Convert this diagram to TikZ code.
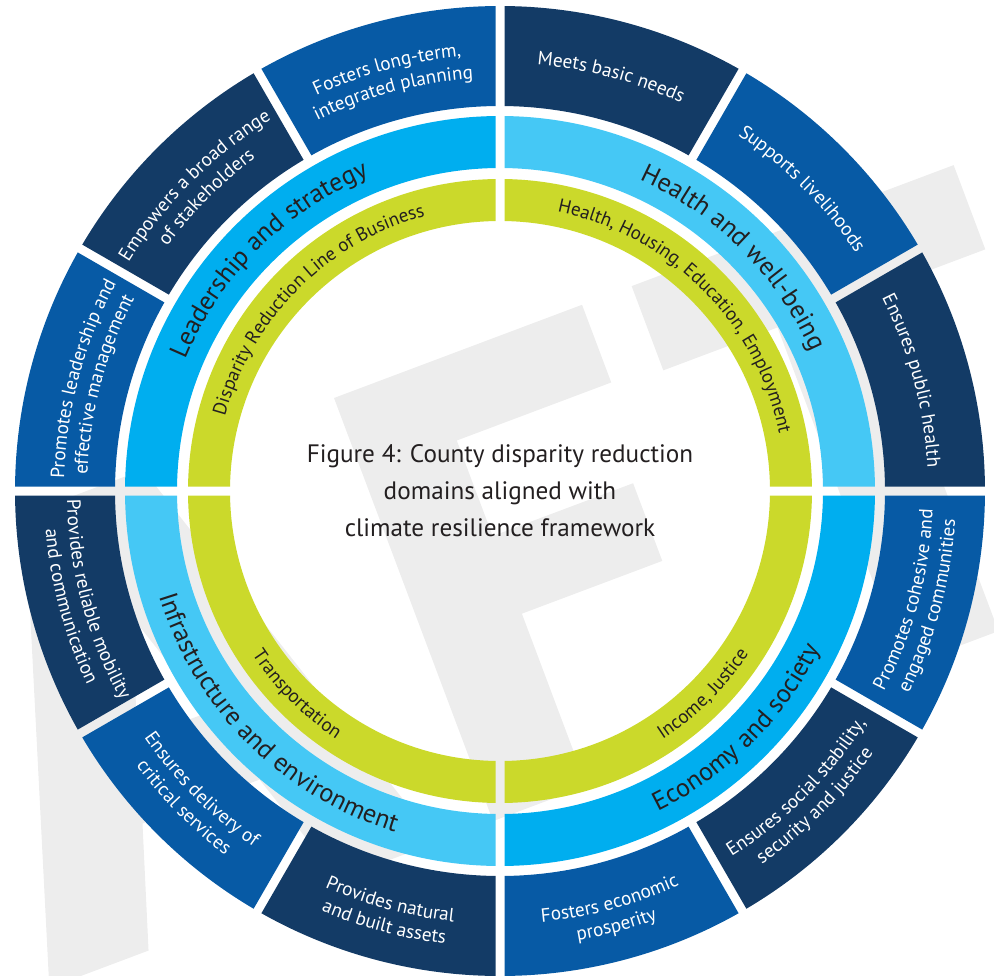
\documentclass[tikz,border=0pt]{standalone}
\usepackage{fontspec}
\setmainfont{PT Sans}
\usepackage{tikz}
\usetikzlibrary{decorations.text}

\definecolor{navyseg}{HTML}{133B66}
\definecolor{blueseg}{HTML}{075AA5}
\definecolor{cyandark}{HTML}{00AEEF}
\definecolor{cyanlight}{HTML}{45C8F5}
\definecolor{limering}{HTML}{CBD92B}
\definecolor{inkgray}{HTML}{231F20}
\definecolor{markgray}{HTML}{EDEDED}

\tikzset{
    watermark/.style={fill=markgray},
    title/.style={
        align=center,
        text=inkgray,
        font=\fontsize{12.6}{18.5}\selectfont
    },
}

% half width of the white gaps between the parts of a ring
\newcommand{\segap}{4.5}
% ring part: inner r, outer r, start angle, end angle, colour
\newcommand{\ringpart}[5]{%
    \pgfmathsetmacro\ai{#3+asin(\segap/#1)}
    \pgfmathsetmacro\bi{#4-asin(\segap/#1)}
    \pgfmathsetmacro\ao{#3+asin(\segap/#2)}
    \pgfmathsetmacro\bo{#4-asin(\segap/#2)}
    \fill[#5] (\ao:#2) arc[start angle=\ao, end angle=\bo, radius=#2]
        -- (\bi:#1) arc[start angle=\bi, end angle=\ai, radius=#1] -- cycle;}
\newcommand{\outerfont}{\fontsize{9.6}{12}\selectfont\color{white}}
\newcommand{\middlefont}{\fontsize{13}{15}\selectfont\color{inkgray}}
\newcommand{\innerfont}{\fontsize{9.5}{11}\selectfont\color{inkgray}}
% text on an arc: mid angle, baseline radius, font, text
\newcommand{\uptext}[4]{%
    \path[decorate,decoration={text along path,text align=center,text={|#3|#4}}]
        (#1+60:#2) arc[start angle=#1+60, end angle=#1-60, radius=#2];}
\newcommand{\downtext}[4]{%
    \path[decorate,decoration={text along path,text align=center,text={|#3|#4}}]
        (#1-60:#2) arc[start angle=#1-60, end angle=#1+60, radius=#2];}

\begin{document}
\begin{tikzpicture}[x=0.5pt,y=0.5pt]
    \useasboundingbox (-500,-484) rectangle (494,491);
    \clip (-500,-484) rectangle (494,491);

    % watermark letters
    \begin{scope}[shift={(-166,93)},rotate=20.6]
        \fill[watermark,even odd rule] (-330,0) -- (-204,0) -- (-60,-452) -- (-165,-452)
            -- (-204,-331) -- (-329,-331) -- (-368,-452) -- (-474,-452) -- cycle
            (-266,-134) -- (-229,-250) -- (-304,-250) -- cycle;
        \fill[watermark] (0,0) -- (265,0) -- (265,-83) -- (100,-83) -- (100,-185)
            -- (250,-185) -- (250,-268) -- (100,-268) -- (100,-452) -- (0,-452) -- cycle;
        \fill[watermark] (318,0) -- (662,0) -- (662,-90) -- (540,-90) -- (540,-452)
            -- (440,-452) -- (440,-90) -- (318,-90) -- cycle;
    \end{scope}

    % rings
    \foreach \a/\c in {0/navyseg,30/blueseg,60/navyseg,90/blueseg,120/navyseg,150/blueseg,
                       180/navyseg,210/blueseg,240/navyseg,270/blueseg,300/navyseg,330/blueseg}
        \ringpart{385}{485}{\a}{\a+30}{\c};
    \foreach \a/\c in {0/cyanlight,90/cyandark,180/cyanlight,270/cyandark}{
        \ringpart{323}{375}{\a}{\a+90}{\c}
        \ringpart{270}{312}{\a}{\a+90}{limering}
    }

    % outer ring
    \uptext{75}{428}{\outerfont}{Meets basic needs}
    \uptext{45}{428}{\outerfont}{Supports livelihoods}
    \uptext{15}{428}{\outerfont}{Ensures public health}
    \uptext{105}{436}{\outerfont}{Fosters long-term,}
    \uptext{105}{413}{\outerfont}{integrated planning}
    \uptext{135}{436}{\outerfont}{Empowers a broad range}
    \uptext{135}{413}{\outerfont}{of stakeholders}
    \uptext{165}{436}{\outerfont}{Promotes leadership and}
    \uptext{165}{413}{\outerfont}{effective management}
    \downtext{195}{433}{\outerfont}{Provides reliable mobility}
    \downtext{195}{456}{\outerfont}{and communication}
    \downtext{225}{433}{\outerfont}{Ensures delivery of}
    \downtext{225}{456}{\outerfont}{critical services}
    \downtext{255}{433}{\outerfont}{Provides natural}
    \downtext{255}{456}{\outerfont}{and built assets}
    \downtext{285}{433}{\outerfont}{Fosters economic}
    \downtext{285}{456}{\outerfont}{prosperity}
    \downtext{315}{433}{\outerfont}{Ensures social stability,}
    \downtext{315}{456}{\outerfont}{security and justice}
    \downtext{345}{433}{\outerfont}{Promotes cohesive and}
    \downtext{345}{456}{\outerfont}{engaged communities}

    % middle ring
    \uptext{135}{341}{\middlefont}{Leadership and strategy}
    \uptext{45}{341}{\middlefont}{Health and well-being}
    \downtext{225}{357}{\middlefont}{Infrastructure and environment}
    \downtext{315}{357}{\middlefont}{Economy and society}

    % inner ring
    \uptext{135}{285}{\innerfont}{Disparity Reduction Line of Business}
    \uptext{45}{285}{\innerfont}{Health, Housing, Education, Employment}
    \downtext{225}{297}{\innerfont}{Transportation}
    \downtext{315}{297}{\innerfont}{Income, Justice}

    \node[title] (caption) at (0,0) {Figure 4: County disparity reduction\\
        domains aligned with\\ climate resilience framework};
\end{tikzpicture}
\end{document}
